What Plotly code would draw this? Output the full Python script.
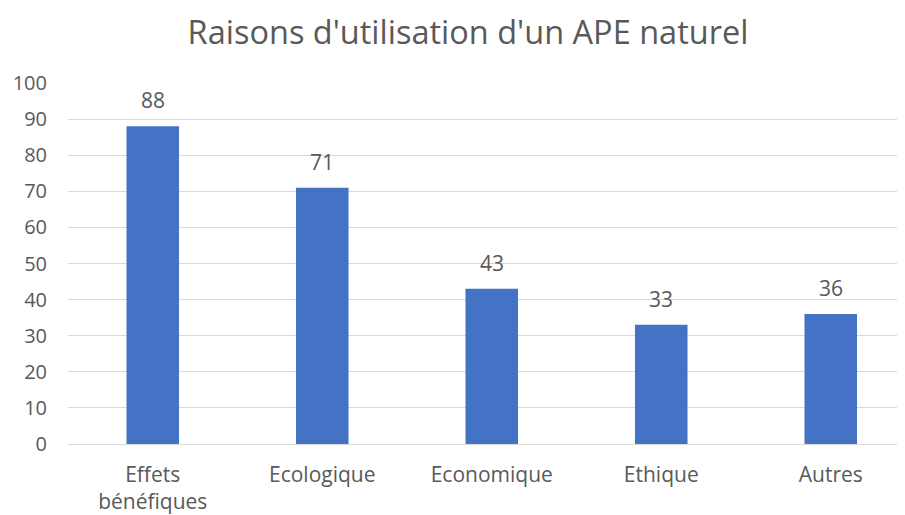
import plotly.graph_objects as go

categories = ["Effets<br>bénéfiques", "Ecologique", "Economique", "Ethique", "Autres"]
values = [88, 71, 43, 33, 36]
y_ticks = [0, 10, 20, 30, 40, 50, 60, 70, 80, 90, 100]
title_text = "Raisons d'utilisation d'un APE naturel"

FONT = "Open Sans"
TXT = "#595959"

fig = go.Figure()
fig.add_trace(go.Bar(
    x=list(range(len(categories))),
    y=values,
    width=0.31,
    marker=dict(color="#4472C4", line=dict(width=0)),
    hoverinfo="skip",
))

for i, v in enumerate(values):
    fig.add_annotation(x=i, y=v, text=str(v), showarrow=False,
                       yanchor="bottom", yshift=10,
                       font=dict(family=FONT, size=21, color=TXT))

W, H = 897, 507
fig.update_layout(
    width=W, height=H,
    margin=dict(l=60, r=0, t=75, b=71),
    paper_bgcolor="white", plot_bgcolor="white",
    showlegend=False,
    title=dict(text=title_text, x=460/W, xanchor="center",
               y=1-25/H, yanchor="middle",
               font=dict(family=FONT, size=32.5, color=TXT)),
    font=dict(family=FONT, color=TXT),
)
fig.update_xaxes(
    range=[-0.5, 4.438],
    tickvals=list(range(len(categories))), ticktext=categories,
    showgrid=False, showline=False, zeroline=False,
    ticks="", ticklabelstandoff=16,
    tickfont=dict(family=FONT, size=21, color=TXT),
)
fig.update_yaxes(
    range=[0, 100], tickvals=y_ticks,
    showgrid=True, gridcolor="#D9D9D9", gridwidth=1,
    zeroline=True, zerolinecolor="#D9D9D9", zerolinewidth=1,
    showline=False, ticks="", ticklabelstandoff=20,
    tickfont=dict(family=FONT, size=20, color=TXT),
)

fig.write_html("out.html")
